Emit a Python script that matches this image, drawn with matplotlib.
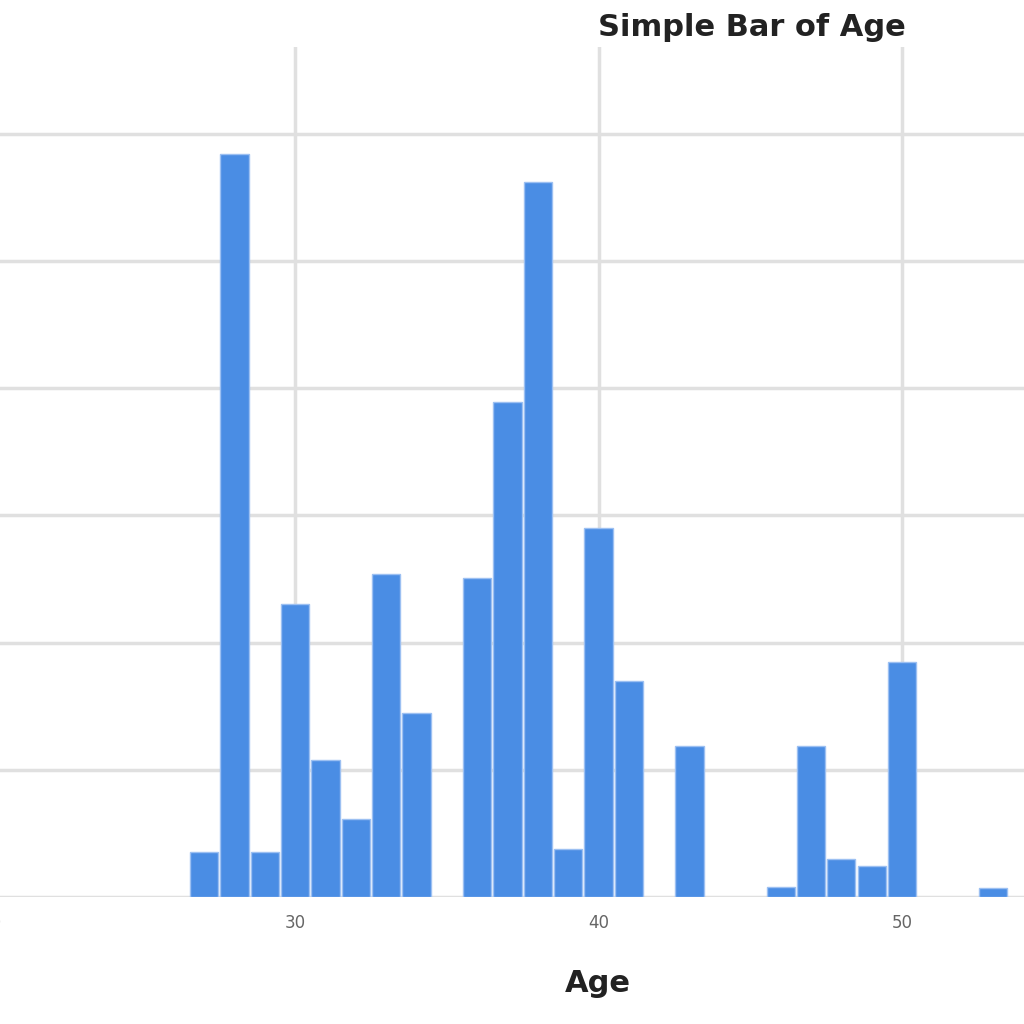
import numpy as np
from matplotlib import pyplot as plt

# ages and bar heights (y in grid steps of 5)
ages = [27, 28, 29, 30, 31, 32, 33, 34, 36, 37, 38, 39, 40, 41, 43, 46, 47, 48, 49, 50, 53]
values = [1.75, 29.2, 1.75, 11.5, 5.4, 3.05, 12.7, 7.25, 12.55, 19.45, 28.1, 1.9,
          14.5, 8.5, 5.95, 0.4, 5.95, 1.5, 1.2, 9.25, 0.35]
x_ticks = [20, 30, 40, 50]
y_ticks = [0, 5, 10, 15, 20, 25, 30]

if __name__ == '__main__':
    fig = plt.figure(figsize=(10.24, 10.24), dpi=100)
    ax = fig.add_axes([-0.0674, 0.124, 1.0816, 0.830])

    ax.bar(ages, values, width=0.93, color='#4a8de4', edgecolor='#9cc0f2',
           linewidth=1.0, zorder=3)

    ax.set_xlim(18, 54.5)
    ax.set_ylim(0, 33.4)
    ax.set_xticks(x_ticks)
    ax.set_yticks(y_ticks)
    ax.set_yticklabels([])
    ax.grid(True, color='#e0e0e0', linewidth=2.5, zorder=0)
    ax.tick_params(length=0, labelsize=12, labelcolor='#666666', pad=12)
    for s in ax.spines.values():
        s.set_visible(False)

    fig.text(598 / 1024, 1 - 27 / 1024, 'Simple Bar of Age', ha='left', va='center',
             fontsize=22, fontweight='bold', color='#222222')
    fig.text(598 / 1024, 1 - 984 / 1024, 'Age', ha='center', va='center',
             fontsize=22, fontweight='bold', color='#222222')

    fig.savefig('out.png', dpi=100, facecolor='white')
